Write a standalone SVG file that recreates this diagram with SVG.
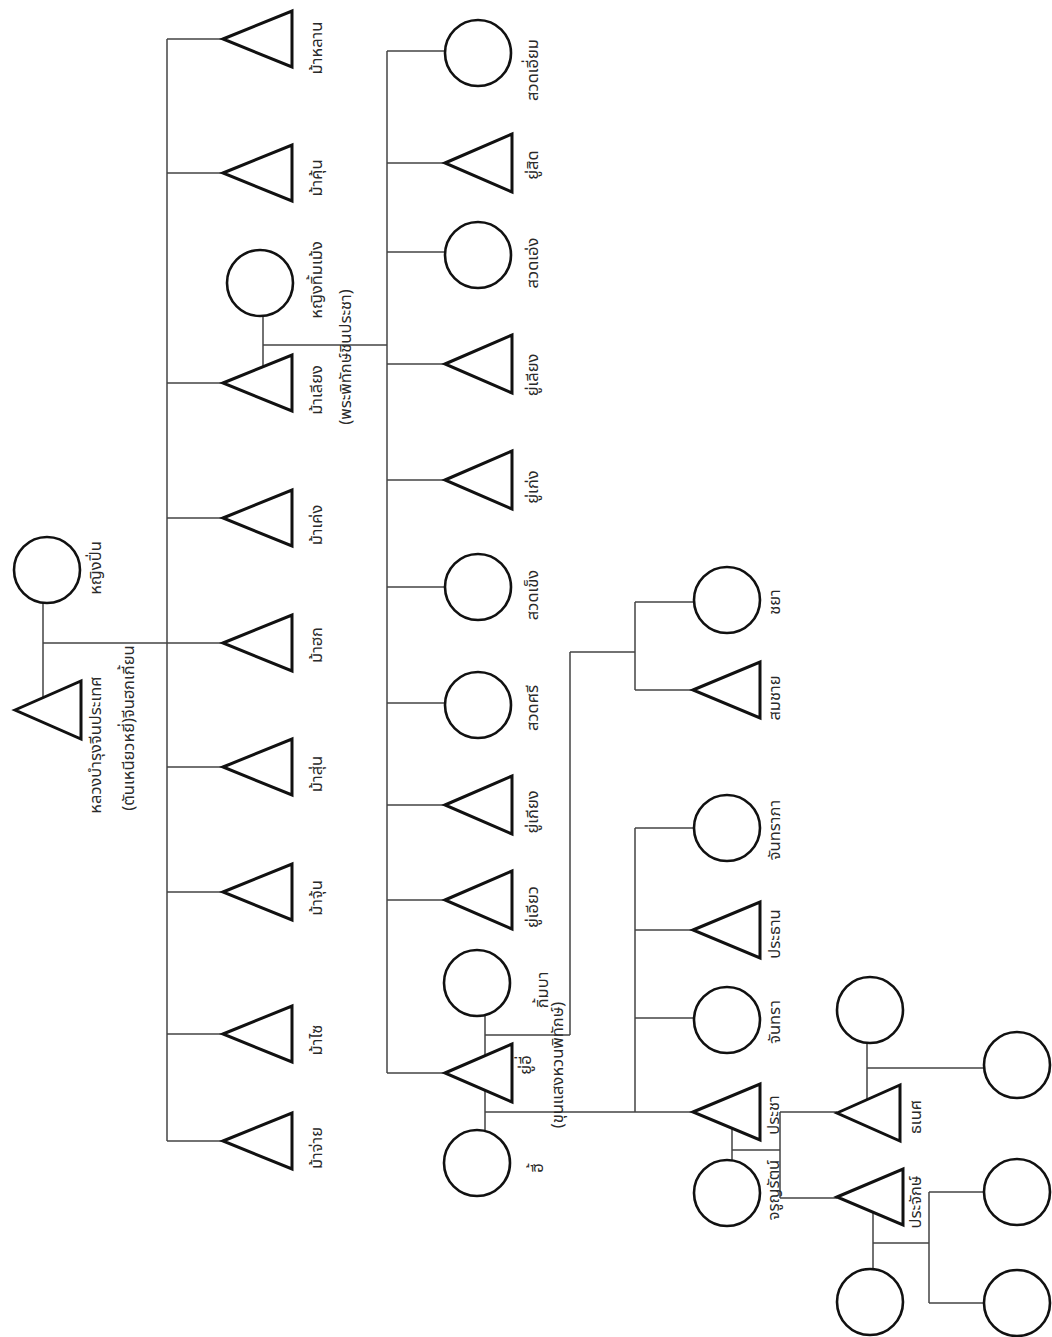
<svg xmlns="http://www.w3.org/2000/svg" width="1052" height="1337" viewBox="0 0 1052 1337">
<defs>
<style>
.m{fill:#fff;stroke:#111;stroke-width:3;stroke-linejoin:miter}
.f{fill:#fff;stroke:#111;stroke-width:2.6}
.c{stroke:#444;stroke-width:1.5;fill:none}
text{font-family:"Noto Sans Thai","Loma","Garuda","Tahoma","Noto Sans",sans-serif;font-size:16.5px;fill:#2a2a2a;text-anchor:middle}
</style>
</defs>
<rect width="1052" height="1337" fill="#fff"/>
<g id="connectors" class="c">
<path d="M43,603V698M43,643H167"/>
<path d="M167,39V1141"/>
<path d="M167,39H223M167,173H223M167,383H223M167,518H223M167,643H223M167,767H223M167,892H223M167,1034H223M167,1141H223"/>
<path d="M263,316V367M263,345H387"/>
<path d="M387,51V1073"/>
<path d="M387,51H445M387,163H445M387,252H445M387,364H445M387,480H445M387,587H445M387,703H445M387,805H445M387,900H445M387,1073H445"/>
<path d="M485,1016V1056M485,1035H570M570,652V1035M570,652H635M635,602V690M635,602H694M635,690H693"/>
<path d="M485,1090V1130M485,1112H693M635,828V1112M635,828H694M635,930H693M635,1018H694"/>
<path d="M732,1128V1160M732,1150H780M780,1112V1198M780,1112H837M780,1198H837"/>
<path d="M867,1043V1100M867,1068H984"/>
<path d="M873,1212V1269M873,1243H929M929,1192V1303M929,1192H984M929,1303H984"/>
</g>
<g id="n0m"><polygon class="m" points="15,710 81,681 81,739"/><text transform="translate(101,745) rotate(-90)">หลวงบำรุงจีนประเทศ</text><text transform="translate(134,728) rotate(-90)">(ตันเหนียวหยี่)จีนฮกเกี้ยน</text></g>
<g id="n0f"><circle class="f" cx="47" cy="570" r="33"/><text transform="translate(101,568) rotate(-90)">หญิงปิ่น</text></g>
<g id="g1a"><polygon class="m" points="223,39 292,11 292,67"/><text transform="translate(322,48) rotate(-90)">ม้าหลาน</text></g>
<g id="g1b"><polygon class="m" points="223,173 292,145 292,201"/><text transform="translate(322,178) rotate(-90)">ม้าคุ้น</text></g>
<g id="g1w"><circle class="f" cx="260" cy="283" r="33"/><text transform="translate(322,280) rotate(-90)">หญิงทิ้มเม้ง</text></g>
<g id="g1c"><polygon class="m" points="223,383 292,355 292,411"/><text transform="translate(322,390) rotate(-90)">ม้าเลียง</text><text transform="translate(351,357) rotate(-90)">(พระพิทักษ์ชินประชา)</text></g>
<g id="g1d"><polygon class="m" points="223,518 292,490 292,546"/><text transform="translate(322,525) rotate(-90)">ม้าเค่ง</text></g>
<g id="g1e"><polygon class="m" points="223,643 292,615 292,671"/><text transform="translate(322,645) rotate(-90)">ม้าฮก</text></g>
<g id="g1f"><polygon class="m" points="223,767 292,739 292,795"/><text transform="translate(322,774) rotate(-90)">ม้าสุ่น</text></g>
<g id="g1g"><polygon class="m" points="223,892 292,864 292,920"/><text transform="translate(322,898) rotate(-90)">ม้าจุ้น</text></g>
<g id="g1h"><polygon class="m" points="223,1034 292,1006 292,1062"/><text transform="translate(322,1040) rotate(-90)">ม้าไซ</text></g>
<g id="g1i"><polygon class="m" points="223,1141 292,1113 292,1169"/><text transform="translate(322,1148) rotate(-90)">ม้าจ่าย</text></g>
<g id="g2a"><circle class="f" cx="478" cy="53" r="33"/><text transform="translate(538,70) rotate(-90)">สวดเอี่ยม</text></g>
<g id="g2b"><polygon class="m" points="445,163 512,134 512,192"/><text transform="translate(538,165) rotate(-90)">ยู่สิด</text></g>
<g id="g2c"><circle class="f" cx="478" cy="255" r="33"/><text transform="translate(538,263) rotate(-90)">สวดเอ่ง</text></g>
<g id="g2d"><polygon class="m" points="445,364 512,335 512,393"/><text transform="translate(538,375) rotate(-90)">ยู่เลียง</text></g>
<g id="g2e"><polygon class="m" points="445,480 512,451 512,509"/><text transform="translate(538,487) rotate(-90)">ยู่เก่ง</text></g>
<g id="g2f"><circle class="f" cx="478" cy="587" r="33"/><text transform="translate(538,595) rotate(-90)">สวดเข็ง</text></g>
<g id="g2g"><circle class="f" cx="478" cy="705" r="33"/><text transform="translate(538,708) rotate(-90)">สวดศรี</text></g>
<g id="g2h"><polygon class="m" points="445,805 512,776 512,834"/><text transform="translate(538,812) rotate(-90)">ยู่เกียง</text></g>
<g id="g2i"><polygon class="m" points="445,900 512,871 512,929"/><text transform="translate(538,907) rotate(-90)">ยู่เอียว</text></g>
<g id="g2j"><polygon class="m" points="445,1073 512,1044 512,1102"/><text transform="translate(531,1065) rotate(-90)">ยู่อี่</text><text transform="translate(563,1065) rotate(-90)">(ขุนแสงหวนพิทักษ์)</text></g>
<g id="g2w1"><circle class="f" cx="477" cy="983" r="33"/><text transform="translate(548,990) rotate(-90)">กิ้มบา</text></g>
<g id="g2w2"><circle class="f" cx="477" cy="1163" r="33"/><text transform="translate(543,1168) rotate(-90)">ฮี้</text></g>
<g id="g3a"><circle class="f" cx="727" cy="600" r="33"/><text transform="translate(780,602) rotate(-90)">ชยา</text></g>
<g id="g3b"><polygon class="m" points="693,690 760,662 760,718"/><text transform="translate(780,698) rotate(-90)">สมชาย</text></g>
<g id="g3c"><circle class="f" cx="727" cy="828" r="33"/><text transform="translate(780,830) rotate(-90)">จันทราภา</text></g>
<g id="g3d"><polygon class="m" points="693,930 760,902 760,958"/><text transform="translate(780,934) rotate(-90)">ประธาน</text></g>
<g id="g3e"><circle class="f" cx="727" cy="1020" r="33"/><text transform="translate(780,1022) rotate(-90)">จันทรา</text></g>
<g id="g3f"><polygon class="m" points="693,1112 760,1084 760,1140"/><text transform="translate(779,1115) rotate(-90)">ประชา</text></g>
<g id="g3w"><circle class="f" cx="727" cy="1193" r="33"/><text transform="translate(779,1190) rotate(-90)">จรูญรัตน์</text></g>
<g id="g4a"><polygon class="m" points="837,1113 900,1085 900,1141"/><text transform="translate(921,1117) rotate(-90)">ธเนศ</text></g>
<g id="g4aw"><circle class="f" cx="870" cy="1010" r="33"/></g>
<g id="g4ac"><circle class="f" cx="1017" cy="1065" r="33"/></g>
<g id="g4b"><polygon class="m" points="837,1197 903,1169 903,1225"/><text transform="translate(921,1202) rotate(-90)">ประจักษ์</text></g>
<g id="g4bw"><circle class="f" cx="870" cy="1302" r="33"/></g>
<g id="g4c1"><circle class="f" cx="1017" cy="1192" r="33"/></g>
<g id="g4c2"><circle class="f" cx="1017" cy="1303" r="33"/></g>
</svg>
